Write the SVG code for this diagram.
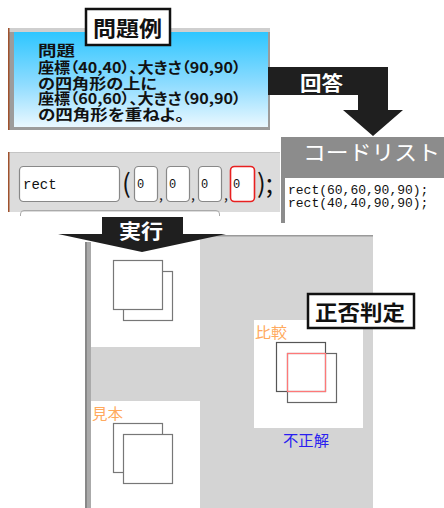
<svg xmlns="http://www.w3.org/2000/svg" width="444" height="508" viewBox="0 0 444 508">
<defs>
<linearGradient id="blue" x1="0" y1="0" x2="0" y2="1">
<stop offset="0" stop-color="#2ec6ff"/>
<stop offset="0.55" stop-color="#8fdcff"/>
<stop offset="1" stop-color="#eaf8ff"/>
</linearGradient>
<style>
.jp{font-family:"Noto Sans CJK JP","Noto Sans",sans-serif}
.b{font-weight:bold}
.palt{font-feature-settings:"palt"}
.mono{font-family:"Liberation Mono","DejaVu Sans Mono",monospace}
.box{fill:#fff;stroke:#888;stroke-width:1.2}
.sq{fill:#fff;stroke:#777;stroke-width:1.2}
.lbl{fill:#fff;stroke:#111;stroke-width:2.5}
.arrow{fill:#1f1f1f}
.gray{fill:#d4d4d4}
.org{fill:#ffaa5e;font-size:15px}
</style>
</defs>
<rect width="444" height="508" fill="#fff"/>

<g id="problem">
<rect x="8" y="28" width="262" height="102" fill="#9c9c9c"/>
<rect x="9" y="28" width="261" height="4" fill="#cfcfcf"/>
<rect x="14" y="32" width="254" height="95" fill="url(#blue)"/>
<rect x="8" y="28" width="1.5" height="102" fill="#a0522d"/>
<g class="jp b palt" font-size="14.5" fill="#111" dominant-baseline="central">
<text x="38" y="49.5" textLength="37" lengthAdjust="spacingAndGlyphs">問題</text>
<text x="38" y="66" textLength="203" lengthAdjust="spacingAndGlyphs">座標（40,40）、大きさ（90,90）</text>
<text x="38" y="82" textLength="119" lengthAdjust="spacingAndGlyphs">の四角形の上に</text>
<text x="38" y="97.5" textLength="203" lengthAdjust="spacingAndGlyphs">座標（60,60）、大きさ（90,90）</text>
<text x="38" y="113" textLength="146" lengthAdjust="spacingAndGlyphs">の四角形を重ねよ。</text>
</g>
</g>

<g id="title">
<rect class="lbl" x="86" y="9" width="84" height="36"/>
<text class="jp b" x="93" y="26.5" font-size="21" textLength="69" lengthAdjust="spacingAndGlyphs" dominant-baseline="central" fill="#111">問題例</text>
</g>

<g id="input-row">
<rect x="8" y="152" width="272" height="60" fill="#dcdcdc"/>
<rect x="8" y="152" width="272" height="1" fill="#c4c4c4"/>
<rect x="8" y="152" width="1.5" height="60" fill="#a0522d"/>
<rect class="box" x="19.5" y="166.5" width="100" height="35" rx="4"/>
<text class="mono" x="23" y="189" font-size="14" fill="#111">rect</text>
<text class="jp" x="122" y="193" font-size="26" fill="#111">(</text>
<rect class="box" x="134.5" y="166.5" width="23" height="35" rx="4"/>
<rect class="box" x="166.5" y="166.5" width="23" height="35" rx="4"/>
<rect class="box" x="198.5" y="166.5" width="23" height="35" rx="4"/>
<rect x="230.5" y="166.5" width="24" height="35" rx="4" fill="#fff" stroke="#e82020" stroke-width="1.6"/>
<g class="mono" font-size="12" fill="#111">
<text x="137" y="188">0</text>
<text x="169" y="188">0</text>
<text x="201" y="188">0</text>
<text x="233" y="188">0</text>
</g>
<g class="jp" font-size="14" fill="#111">
<text x="159" y="200">,</text>
<text x="191" y="200">,</text>
<text x="224" y="200">,</text>
</g>
<text class="jp" x="257" y="193" font-size="26" fill="#111">);</text>
<path d="M20.5,216 V214 Q20.5,210.5 24,210.5 H216 Q219.5,210.5 219.5,214 V216" fill="none" stroke="#aaa" stroke-width="1"/>
</g>

<g id="code-list">
<rect x="281" y="137" width="163" height="86" fill="#8c8c8c"/>
<rect x="285" y="178" width="159" height="45" fill="#fff"/>
<text class="jp" x="303" y="151" font-size="21" textLength="137" lengthAdjust="spacingAndGlyphs" fill="#fff" dominant-baseline="central">コードリスト</text>
<g class="mono" font-size="13" fill="#111">
<text x="288" y="194">rect(60,60,90,90);</text>
<text x="288" y="207">rect(40,40,90,90);</text>
</g>
</g>

<g id="exec-area">
<rect class="gray" x="200" y="235" width="173" height="273"/>
<rect x="200" y="235" width="173" height="1.5" fill="#9a9a9a"/>
<rect class="gray" x="91" y="347" width="109" height="54"/>
<rect x="85" y="242" width="6" height="266" fill="#aaa"/>
<rect x="85" y="242" width="2" height="266" fill="#888"/>
</g>

<g id="result">
<rect class="sq" x="123.5" y="271.5" width="49" height="49"/>
<rect class="sq" x="113.5" y="260.5" width="49" height="49"/>
</g>

<g id="sample">
<text class="jp org" x="92" y="412" textLength="31" lengthAdjust="spacingAndGlyphs" dominant-baseline="central">見本</text>
<rect class="sq" x="113.5" y="423.5" width="49" height="49"/>
<rect class="sq" x="123.5" y="434.5" width="49" height="49"/>
</g>

<g id="compare">
<rect x="254" y="320" width="109" height="108" fill="#fff"/>
<text class="jp org" x="255" y="331" textLength="32" lengthAdjust="spacingAndGlyphs" dominant-baseline="central">比較</text>
<rect x="276.5" y="342.5" width="49" height="49" fill="none" stroke="#555" stroke-width="1.2"/>
<rect x="287.5" y="353.5" width="49" height="49" fill="none" stroke="#666" stroke-width="1.2"/>
<rect x="287.5" y="353.5" width="38" height="38" fill="none" stroke="#ff7878" stroke-width="1.2"/>
<text class="jp" x="283" y="439" font-size="15" textLength="46" lengthAdjust="spacingAndGlyphs" fill="#2a1ef0" dominant-baseline="central">不正解</text>
</g>

<g id="judge">
<rect class="lbl" x="308" y="294" width="106" height="34"/>
<text class="jp b" x="315" y="311" font-size="21" textLength="90" lengthAdjust="spacingAndGlyphs" dominant-baseline="central" fill="#111">正否判定</text>
</g>

<g id="connectors">
<path class="arrow" d="M268,67 H388 V110 H403 L373,136 L343,110 H358 V95 H268 Z"/>
<text class="jp b" x="300" y="82" font-size="20" textLength="43" lengthAdjust="spacingAndGlyphs" dominant-baseline="central" fill="#fff">回答</text>
<path class="arrow" d="M102,217 H183 V234 H226 L142,252 L58,234 H102 Z"/>
<text class="jp b" x="119" y="230" font-size="20" textLength="44" lengthAdjust="spacingAndGlyphs" dominant-baseline="central" fill="#fff">実行</text>
</g>
</svg>
